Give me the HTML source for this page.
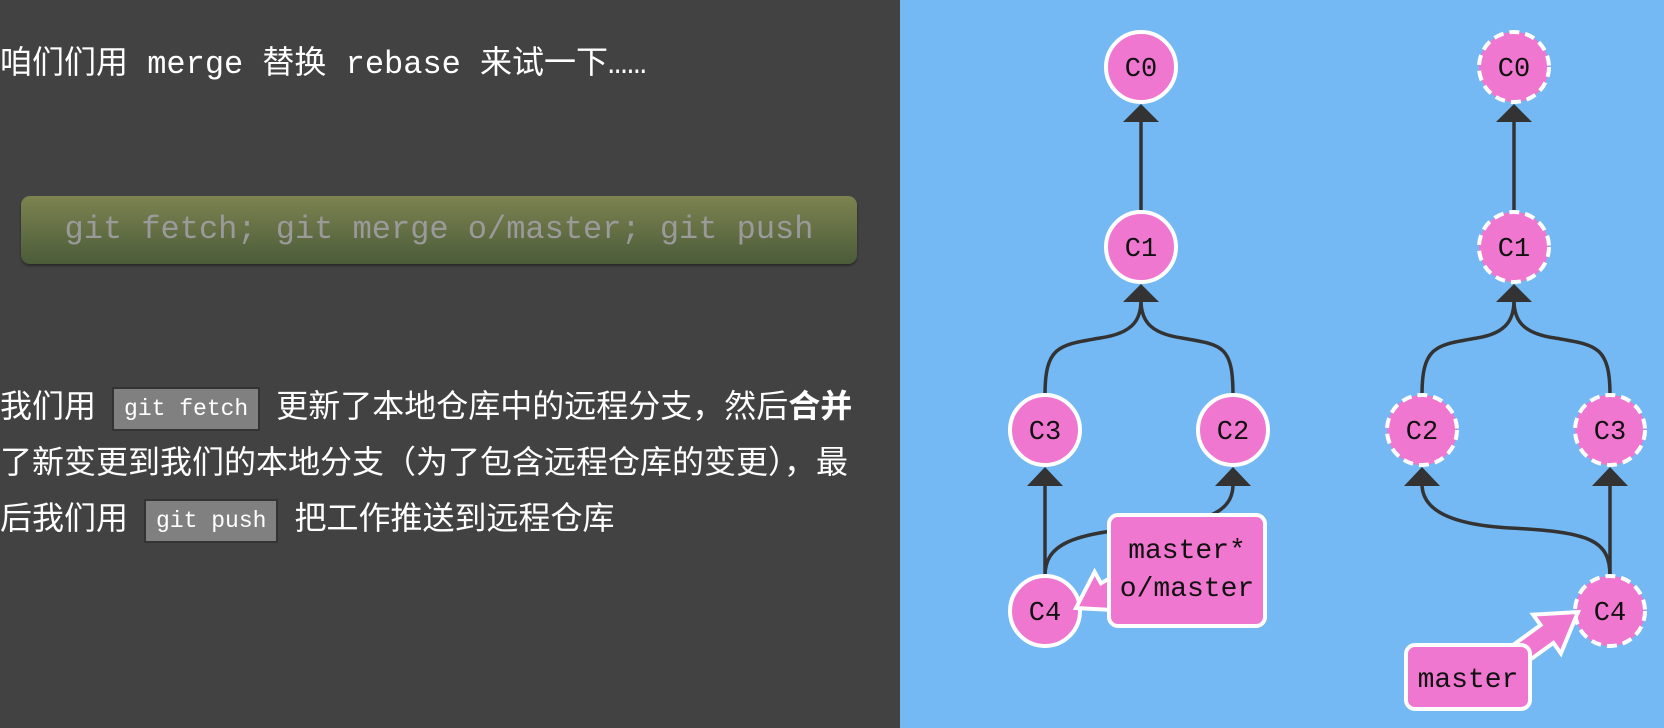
<!DOCTYPE html>
<html><head><meta charset="utf-8"><style>
html,body{margin:0;padding:0;width:1664px;height:728px;overflow:hidden;background:#424242}
.left{position:absolute;left:0;top:0;width:900px;height:728px;background:#424242;color:#fff;font-family:"Liberation Mono","Noto Sans CJK SC",monospace}
.t1{position:absolute;left:0;top:37px;font-size:32px;white-space:nowrap}
.btn{position:absolute;left:21px;top:196px;width:836px;height:68px;border-radius:9px;background:linear-gradient(#7d8350,#4b5c39);box-shadow:0 2px 2px #2a2a2a;color:#9a9a9a;font-size:32px;line-height:68px;text-align:center;font-family:"Liberation Mono",monospace}
.p{position:absolute;left:0;top:378px;width:900px;font-size:32px;line-height:56px;white-space:nowrap;font-family:"Liberation Sans","Noto Sans CJK SC",sans-serif}
.code{display:inline-block;background:#808080;border:2px solid #333;font-family:"Liberation Mono",monospace;font-size:23px;line-height:40px;padding:0 10px;margin:0 16px 0 16px;vertical-align:middle;color:#fff}
.right{position:absolute;left:900px;top:0;width:764px;height:728px;background:#74b9f4}
</style></head><body>
<div class="left">
<div class="t1">咱们们用 merge 替换 rebase 来试一下……</div>
<div class="btn">git fetch; git merge o/master; git push</div>
<div class="p">我们用<span class="code">git fetch</span>更新了本地仓库中的远程分支，然后<b>合并</b><br>了新变更到我们的本地分支（为了包含远程仓库的变更），最<br>后我们用<span class="code">git push</span>把工作推送到远程仓库</div>
</div>
<div class="right"></div>
<svg width="1664" height="728" style="position:absolute;left:0;top:0" font-family="Liberation Mono, monospace">
<g stroke="#333" stroke-width="3.5" fill="none">
<path d="M1141 212 V120"/>
<path d="M1045 395 C1045 345 1060 345 1100 338 C1135 333 1141 318 1141 300"/>
<path d="M1233 395 C1233 345 1222 345 1182 338 C1147 333 1141 318 1141 300"/>
<path d="M1045 576 V484"/>
<path d="M1045 576 C1045 545 1070 533 1150 527 C1220 522 1233 505 1233 484"/>
<path d="M1514 212 V120"/>
<path d="M1422 395 C1422 345 1437 345 1477 338 C1508 333 1514 318 1514 300"/>
<path d="M1610 395 C1610 345 1595 345 1555 338 C1520 333 1514 318 1514 300"/>
<path d="M1610 576 V484"/>
<path d="M1610 576 C1610 540 1590 532 1510 528 C1440 524 1422 505 1422 484"/>
</g>
<g fill="#333">
<polygon points="1141,104 1123,122 1159,122"/>
<polygon points="1141,284 1123,302 1159,302"/>
<polygon points="1045,467 1027,486 1063,486"/>
<polygon points="1233,467 1215,486 1251,486"/>
<polygon points="1514,104 1496,122 1532,122"/>
<polygon points="1514,284 1496,302 1532,302"/>
<polygon points="1422,467 1404,486 1440,486"/>
<polygon points="1610,467 1592,486 1628,486"/>
</g>
<g fill="#ef77cf" stroke="#fff" stroke-width="4">
<circle cx="1141" cy="67" r="35"/><circle cx="1141" cy="247" r="35"/>
<circle cx="1045" cy="430" r="35"/><circle cx="1233" cy="430" r="35"/>
<circle cx="1045" cy="611" r="35"/>
</g>
<g fill="#ef77cf" stroke="#fff" stroke-width="4" stroke-dasharray="10 6">
<circle cx="1514" cy="67" r="35"/><circle cx="1514" cy="247" r="35"/>
<circle cx="1422" cy="430" r="35"/><circle cx="1610" cy="430" r="35"/>
<circle cx="1610" cy="611" r="35"/>
</g>
<g font-size="27" fill="#111" text-anchor="middle">
<text x="1141" y="76">C0</text><text x="1141" y="256">C1</text>
<text x="1045" y="439">C3</text><text x="1233" y="439">C2</text>
<text x="1045" y="620">C4</text>
<text x="1514" y="76">C0</text><text x="1514" y="256">C1</text>
<text x="1422" y="439">C2</text><text x="1610" y="439">C3</text>
<text x="1610" y="620">C4</text>
</g>
<g fill="#ef77cf" stroke="#fff" stroke-width="4" stroke-linejoin="miter">
<polygon points="1139.5,581.8 1110,598.9 1116.4,610.2 1076,608 1094.6,572 1101,583.3 1130.5,566.2"/>
<rect x="1109" y="515" width="156" height="111" rx="9"/>
<polygon points="1506.4,676.9 1553.4,642.9 1560.9,653.4 1578,612 1533.1,614.6 1540.6,625.1 1493.6,659.1"/>
<rect x="1406" y="645" width="124" height="64" rx="9"/>
</g>
<g font-size="28" fill="#111" text-anchor="middle">
<text x="1187" y="558">master*</text>
<text x="1187" y="596">o/master</text>
<text x="1468" y="687">master</text>
</g>
</svg>
</body></html>
